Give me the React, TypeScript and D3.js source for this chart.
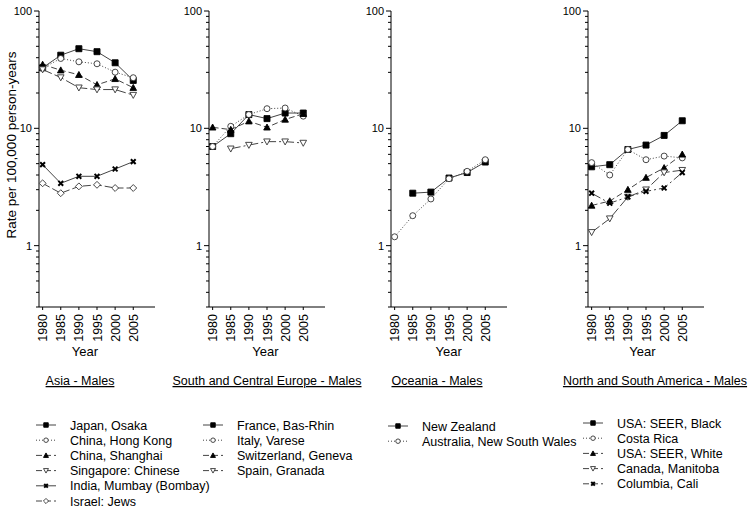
import React from "react";
import * as d3 from "d3";

const years = [1980, 1985, 1990, 1995, 2000, 2005];
const yTickLabels = ["1", "10", "100"];

// Asia - Males
const japanOsaka = [32.8, 42, 47.7, 45, 36.2, 25.6];
const chinaHongKong = [32.6, 39.4, 36.9, 35.5, 30.1, 27];
const chinaShanghai = [35, 31.3, 28.6, 23.5, 26.4, 22.2];
const singaporeChinese = [31.7, 27.1, 22.2, 21.4, 21.4, 19.2];
const indiaMumbai = [4.9, 3.4, 3.9, 3.9, 4.5, 5.2];
const israelJews = [3.4, 2.8, 3.2, 3.3, 3.1, 3.1];

// South and Central Europe - Males
const franceBasRhin = [7.0, 9.0, 13.1, 12.1, 13.5, 13.5];
const italyVarese = [7.0, 10.4, 13.1, 14.7, 14.9, 12.7];
const switzerlandGeneva = [10.2, 9.75, 11.5, 10.2, 11.9, 13.3];
const spainGranada = [null, 6.7, 7.2, 7.7, 7.7, 7.5];

// Oceania - Males
const newZealand = [null, 2.8, 2.86, 3.77, 4.2, 5.16];
const australiaNSW = [1.19, 1.8, 2.5, 3.72, 4.3, 5.4];

// North and South America - Males
const usaSeerBlack = [4.7, 4.9, 6.6, 7.2, 8.7, 11.6];
const costaRica = [5.1, 4.0, 6.6, 5.4, 5.8, 5.6];
const usaSeerWhite = [2.2, 2.4, 3.0, 3.8, 4.6, 6.0];
const canadaManitoba = [1.3, 1.7, 2.6, 3.0, 4.2, 4.4];
const columbiaCali = [2.8, 2.3, 2.6, 2.9, 3.1, 4.2];

type Sym = "square" | "circle" | "triangle" | "tridown" | "x" | "diamond";
interface Series { name: string; values: (number | null)[]; sym: Sym; dash: string; }
interface Panel { title: string; series: Series[]; }

const panels: Panel[] = [
  {
    title: "Asia - Males",
    series: [
      { name: "Japan, Osaka", values: japanOsaka, sym: "square", dash: "" },
      { name: "China, Hong Kong", values: chinaHongKong, sym: "circle", dash: "1,2" },
      { name: "China, Shanghai", values: chinaShanghai, sym: "triangle", dash: "6,3" },
      { name: "Singapore: Chinese", values: singaporeChinese, sym: "tridown", dash: "10,3" },
      { name: "India, Mumbay (Bombay)", values: indiaMumbai, sym: "x", dash: "" },
      { name: "Israel: Jews", values: israelJews, sym: "diamond", dash: "8,3" },
    ],
  },
  {
    title: "South and Central Europe - Males",
    series: [
      { name: "France, Bas-Rhin", values: franceBasRhin, sym: "square", dash: "" },
      { name: "Italy, Varese", values: italyVarese, sym: "circle", dash: "1,2" },
      { name: "Switzerland, Geneva", values: switzerlandGeneva, sym: "triangle", dash: "6,3" },
      { name: "Spain, Granada", values: spainGranada, sym: "tridown", dash: "10,3,2,3" },
    ],
  },
  {
    title: "Oceania - Males",
    series: [
      { name: "New Zealand", values: newZealand, sym: "square", dash: "" },
      { name: "Australia, New South Wales", values: australiaNSW, sym: "circle", dash: "1,2" },
    ],
  },
  {
    title: "North and South America - Males",
    series: [
      { name: "USA: SEER, Black", values: usaSeerBlack, sym: "square", dash: "" },
      { name: "Costa Rica", values: costaRica, sym: "circle", dash: "1,2" },
      { name: "USA: SEER, White", values: usaSeerWhite, sym: "triangle", dash: "6,3" },
      { name: "Canada, Manitoba", values: canadaManitoba, sym: "tridown", dash: "10,3" },
      { name: "Columbia, Cali", values: columbiaCali, sym: "x", dash: "10,3,2,3" },
    ],
  },
];

// layout
const axisX = [39, 209, 391, 588];
const plotW = 116;
const titleX = [80, 267, 437, 655];
const yearLabelX = [85, 265.5, 448.7, 642.5];
const legendSymX = [36, 203, 388, 583];
const legendTextX = [70, 237, 422, 617];
const legendTop = [425, 425, 426, 423];
const legendStep = 15.2;

const yScale = d3.scaleLog().domain([0.3, 100]).range([307, 11]);
const FONT = "'Liberation Sans', Arial, sans-serif";

function symPath(sym: Sym, s: number): string {
  const h = s / 2;
  switch (sym) {
    case "square": return `M${-h},${-h}h${s}v${s}h${-s}Z`;
    case "circle": return d3.symbol(d3.symbolCircle, (s * s * Math.PI) / 4)() as string;
    case "triangle": return `M0,${-h * 1.1}L${h * 1.1},${h * 0.9}L${-h * 1.1},${h * 0.9}Z`;
    case "tridown": return `M0,${h * 1.1}L${h * 1.1},${-h * 0.9}L${-h * 1.1},${-h * 0.9}Z`;
    case "diamond": return `M0,${-h * 1.15}L${h * 1.15},0L0,${h * 1.15}L${-h * 1.15},0Z`;
    case "x": return `M${-h * 0.8},${-h * 0.8}L${h * 0.8},${h * 0.8}M${h * 0.8},${-h * 0.8}L${-h * 0.8},${h * 0.8}`;
  }
}

function Marker({ sym, x, y, size }: { sym: Sym; x: number; y: number; size: number }) {
  const filled = sym === "square" || sym === "triangle";
  if (sym === "x") {
    return <path d={symPath(sym, size)} transform={`translate(${x},${y})`} stroke="#000" strokeWidth={2} fill="none" />;
  }
  return (
    <path
      d={symPath(sym, size)}
      transform={`translate(${x},${y})`}
      fill={filled ? "#000" : "#fff"}
      stroke={filled ? "#000" : "#333"}
      strokeWidth={0.9}
    />
  );
}

function PanelView({ panel, i }: { panel: Panel; i: number }) {
  const x0 = axisX[i];
  const xScale = d3.scaleLinear().domain([1979, 2011]).range([x0, x0 + plotW]);
  const [yb, yt] = yScale.range();
  const minorTicks: number[] = [];
  [0.1, 1, 10].forEach((dec) => {
    for (let k = 2; k <= 9; k++) {
      const v = k * dec;
      if (v >= 0.3 && v <= 100) minorTicks.push(v);
    }
  });
  const majors = [1, 10, 100];
  const line = d3
    .line<number | null>()
    .defined((d) => d != null)
    .x((_, j) => xScale(years[j]))
    .y((d) => yScale(d as number));
  const tw = panel.title.length;
  return (
    <g>
      {/* axes */}
      <line x1={x0} x2={x0} y1={yb} y2={yt} stroke="#000" strokeWidth={1} />
      <line x1={x0} x2={x0 + plotW} y1={yb} y2={yb} stroke="#000" strokeWidth={1} />
      {minorTicks.map((v) => (
        <line key={"m" + v} x1={x0 - 3} x2={x0} y1={yScale(v)} y2={yScale(v)} stroke="#000" strokeWidth={1} />
      ))}
      {majors.map((v, k) => (
        <g key={"M" + v}>
          <line x1={x0 - 5} x2={x0} y1={yScale(v)} y2={yScale(v)} stroke="#000" strokeWidth={1} />
          <text x={x0 - 7} y={yScale(v) + 4} textAnchor="end" fontSize={11} fontFamily={FONT} fill="#000">
            {yTickLabels[k]}
          </text>
        </g>
      ))}
      {years.map((yr) => (
        <g key={yr}>
          <line x1={xScale(yr)} x2={xScale(yr)} y1={yb} y2={yb + 3} stroke="#000" strokeWidth={1} />
          <text
            transform={`translate(${xScale(yr) + 4.5},${yb + 7}) rotate(-90)`}
            textAnchor="end"
            fontSize={12.5}
            fontFamily={FONT}
            fill="#000"
          >
            {yr}
          </text>
        </g>
      ))}
      <text x={yearLabelX[i]} y={356} textAnchor="middle" fontSize={13} fontFamily={FONT} fill="#000">Year</text>
      <text x={titleX[i]} y={385} textAnchor="middle" fontSize={12.5} fontFamily={FONT} fill="#000" textDecoration="underline">
        {panel.title}
      </text>
      {/* series */}
      {panel.series.map((s, si) => (
        <g key={"s" + si}>
          <path d={line(s.values) as string} fill="none" stroke="#444" strokeWidth={1} strokeDasharray={s.dash || undefined} />
          {s.values.map((v, j) =>
            v == null ? null : <Marker key={j} sym={s.sym} x={xScale(years[j])} y={yScale(v)} size={6} />
          )}
        </g>
      ))}
      {/* legend */}
      {panel.series.map((s, si) => {
        const ly = legendTop[i] + si * legendStep;
        const lx = legendSymX[i];
        return (
          <g key={"l" + si}>
            <line x1={lx} x2={lx + 20} y1={ly} y2={ly} stroke="#444" strokeWidth={1} strokeDasharray={s.dash ? (s.dash === "1,2" ? "1,2" : "6,3") : undefined} />
            <Marker sym={s.sym} x={lx + 10} y={ly} size={4.5} />
            <text x={legendTextX[i]} y={ly + 4.5} fontSize={12.5} fontFamily={FONT} fill="#000">{s.name}</text>
          </g>
        );
      })}
    </g>
  );
}

export default function App() {
  return (
    <svg width={750} height={515} style={{ position: "absolute", left: 0, top: 0, background: "#fff" }}>
      <rect x={0} y={0} width={750} height={515} fill="#fff" />
      <text
        transform={`translate(16,145) rotate(-90)`}
        textAnchor="middle"
        fontSize={13.5}
        fontFamily={FONT}
        fill="#000"
      >
        Rate per 100,000 person-years
      </text>
      {panels.map((p, i) => (
        <PanelView key={i} panel={p} i={i} />
      ))}
    </svg>
  );
}
